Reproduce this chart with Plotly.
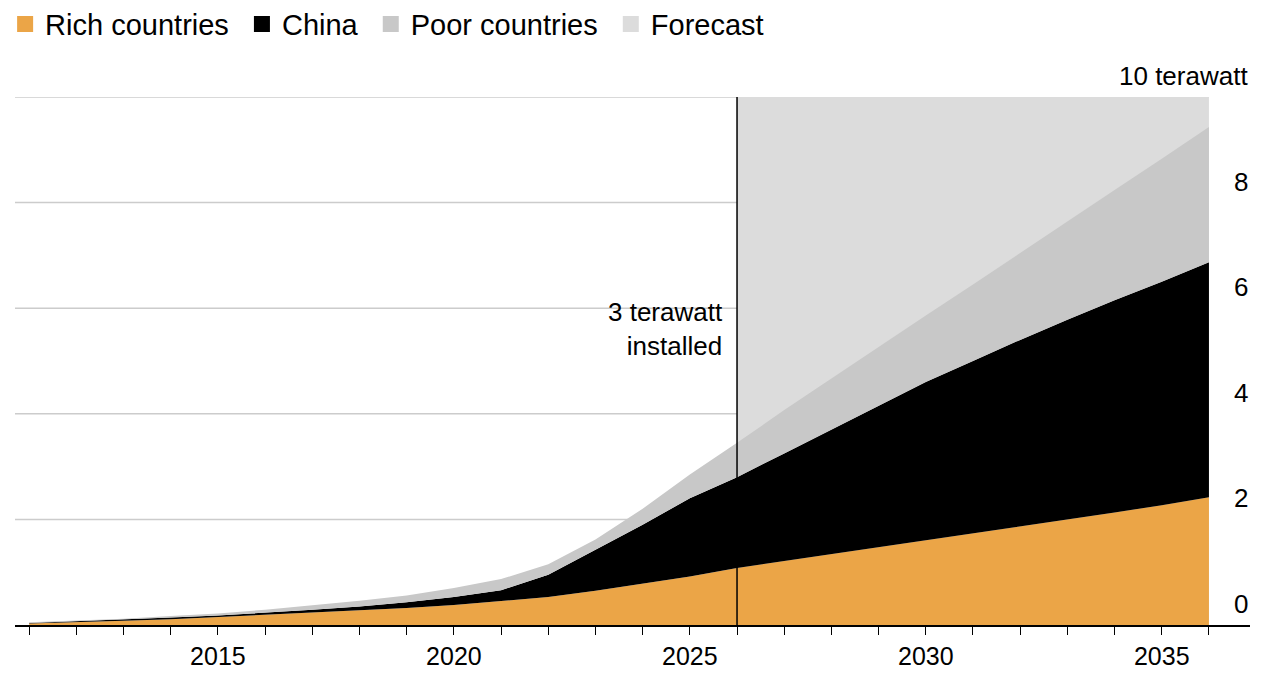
import plotly.graph_objects as go

years = list(range(2011, 2037))
rich_top = [0.03,0.05,0.08,0.11,0.15,0.19,0.23,0.27,0.32,0.38,0.45,0.53,0.65,0.78,0.92,1.08,1.21,1.34,1.47,1.60,1.73,1.86,2.0,2.13,2.27,2.42]
china_top = [0.04,0.07,0.1,0.14,0.18,0.23,0.29,0.35,0.43,0.53,0.66,0.95,1.42,1.9,2.4,2.8,3.25,3.7,4.15,4.6,5.0,5.4,5.78,6.15,6.5,6.87]
poor_top = [0.05,0.08,0.12,0.17,0.22,0.29,0.37,0.46,0.56,0.7,0.87,1.15,1.62,2.2,2.85,3.45,4.07,4.67,5.26,5.86,6.45,7.05,7.64,8.24,8.83,9.43]
y_ticks = [0, 2, 4, 6, 8, 10]
x_labels = [2015, 2020, 2025, 2030, 2035]
forecast_start, forecast_end = 2026, 2036

ORANGE, BLACK, POOR, FC = "#eba547", "#000000", "#c8c8c8", "#dcdcdc"
FONT = "Liberation Sans"

fig = go.Figure()
fig.add_trace(go.Scatter(x=years, y=rich_top, mode="lines", line=dict(width=0, color=ORANGE),
                         fill="tozeroy", fillcolor=ORANGE, name="Rich countries", showlegend=False))
fig.add_trace(go.Scatter(x=years, y=china_top, mode="lines", line=dict(width=0, color=BLACK),
                         fill="tonexty", fillcolor=BLACK, name="China", showlegend=False))
fig.add_trace(go.Scatter(x=years, y=poor_top, mode="lines", line=dict(width=0, color=POOR),
                         fill="tonexty", fillcolor=POOR, name="Poor countries", showlegend=False))
for name, col in [("Rich countries", ORANGE), ("China", BLACK), ("Poor countries", POOR), ("Forecast", FC)]:
    fig.add_trace(go.Scatter(x=[None], y=[None], mode="markers", name=name + "\u00a0",
                             marker=dict(symbol="square", size=21, color=col)))

shapes = []
for v in y_ticks[1:]:
    shapes.append(dict(type="line", xref="x", yref="y", x0=2010.7, x1=2036, y0=v, y1=v,
                       line=dict(color="#cccccc", width=1.5), layer="below"))
shapes.append(dict(type="rect", xref="x", yref="y", x0=forecast_start, x1=forecast_end, y0=0, y1=10,
                   fillcolor=FC, line=dict(width=0), layer="below"))
shapes.append(dict(type="line", xref="x", yref="y", x0=forecast_start, x1=forecast_start, y0=0, y1=10,
                   line=dict(color="black", width=1.5)))

ann = []
for v in y_ticks:
    ann.append(dict(xref="paper", yref="y", x=1, y=v, text=f"{v} terawatt" if v == 10 else str(v),
                    xanchor="right", yanchor="bottom", yshift=4, showarrow=False,
                    font=dict(size=26, color="black", family=FONT)))
ann.append(dict(xref="x", yref="y", x=forecast_start, y=5.6, xshift=-12, text="3 terawatt<br>installed",
                xanchor="right", yanchor="middle", align="right", showarrow=False,
                font=dict(size=26, color="black", family=FONT)))

fig.update_layout(
    width=1276, height=690, plot_bgcolor="white", paper_bgcolor="white",
    margin=dict(l=7, r=34, t=89, b=73, autoexpand=False),
    font=dict(family=FONT, size=26, color="black"),
    shapes=shapes, annotations=ann,
    legend=dict(orientation="h", x=-0.008, y=1.138, xanchor="left", yanchor="middle",
                font=dict(size=29), itemwidth=30, traceorder="normal"),
    xaxis=dict(range=[2010.7, 2036.87], showgrid=False, zeroline=False, showline=True,
               linecolor="black", linewidth=1.5, tickvals=x_labels, ticktext=[str(v) for v in x_labels],
               ticks="outside", ticklen=8, tickcolor="black", tickfont=dict(size=25),
               minor=dict(tick0=2011, dtick=1, ticks="outside", ticklen=8, tickcolor="black")),
    yaxis=dict(range=[0, 10], showgrid=False, zeroline=False, showticklabels=False),
)
fig.write_html("out.html")
